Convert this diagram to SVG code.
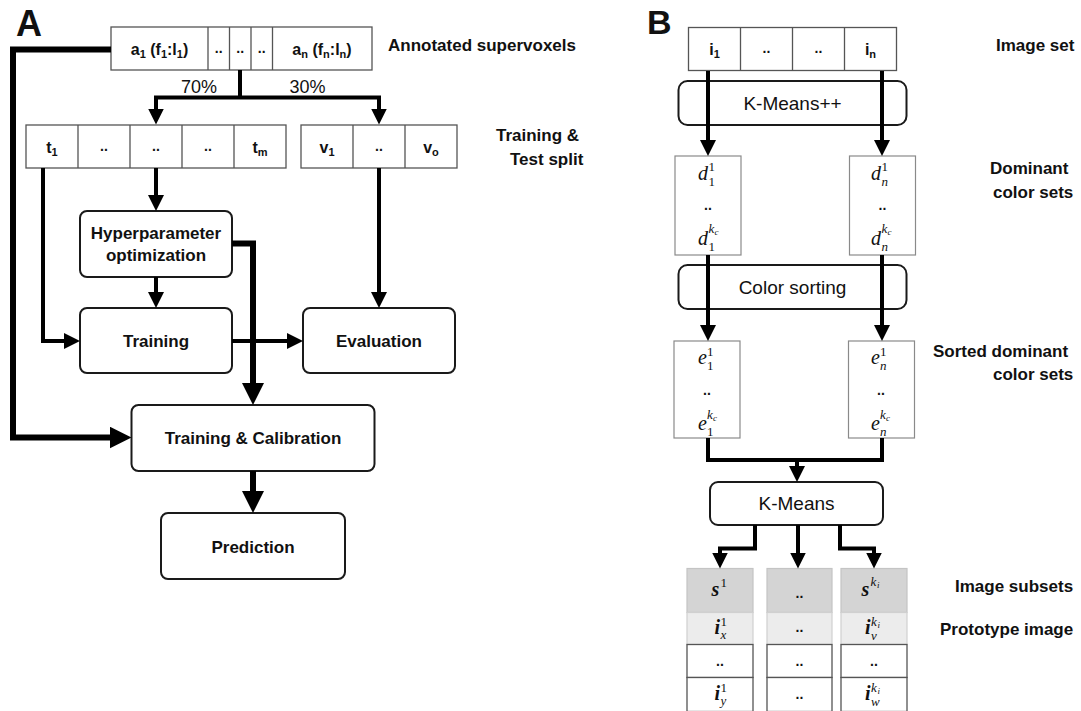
<svg xmlns="http://www.w3.org/2000/svg" width="1081" height="711" viewBox="0 0 1081 711">
<style>
.t{font-family:"Liberation Sans",Arial,sans-serif;fill:#111}
.b{font-weight:bold}
.m{font-family:"Liberation Serif","Times New Roman",serif;font-style:italic;fill:#111}
.u{font-family:"Liberation Serif","Times New Roman",serif;fill:#111}
.box{fill:#fff;stroke:#1a1a1a;stroke-width:2}
.cell{fill:#fff;stroke:#555;stroke-width:1.3}
.lc{fill:#fff;stroke:#8a8a8a;stroke-width:1.2}
.thin{fill:none;stroke:#000;stroke-width:4}
.thick{fill:none;stroke:#000;stroke-width:6}
</style>
<defs>
<marker id="ah" markerUnits="userSpaceOnUse" markerWidth="16" markerHeight="16" refX="4" refY="8" orient="auto-start-reverse"><path d="M0,0 L16,8 L0,16 z" fill="#000"/></marker>
<marker id="AH" markerUnits="userSpaceOnUse" markerWidth="22" markerHeight="22" refX="4" refY="11" orient="auto"><path d="M0,0 L22,11 L0,22 z" fill="#000"/></marker>
</defs>
<rect width="1081" height="711" fill="#fff"/>

<!-- Panel A -->
<text class="t b" x="16" y="36" font-size="36">A</text>
<g id="a-supervoxels">
<rect class="cell" x="111" y="27" width="261" height="43"/>
<path class="cell" d="M208,27V70M229.5,27V70M251,27V70M272.5,27V70"/>
<text class="t b" x="159.5" y="55" font-size="16" text-anchor="middle">a<tspan font-size="11" dy="3">1</tspan><tspan dy="-3"> (f</tspan><tspan font-size="11" dy="3">1</tspan><tspan dy="-3">:l</tspan><tspan font-size="11" dy="3">1</tspan><tspan dy="-3">)</tspan></text>
<text class="t b" x="218.7" y="53" font-size="14" text-anchor="middle">..</text>
<text class="t b" x="240.2" y="53" font-size="14" text-anchor="middle">..</text>
<text class="t b" x="261.7" y="53" font-size="14" text-anchor="middle">..</text>
<text class="t b" x="322" y="55" font-size="16" text-anchor="middle">a<tspan font-size="11" dy="3">n</tspan><tspan dy="-3"> (f</tspan><tspan font-size="11" dy="3">n</tspan><tspan dy="-3">:l</tspan><tspan font-size="11" dy="3">n</tspan><tspan dy="-3">)</tspan></text>
</g>
<text class="t b" x="388" y="51" font-size="17">Annotated supervoxels</text>
<text class="t" x="199" y="93" font-size="18" text-anchor="middle">70%</text>
<text class="t" x="307.5" y="93" font-size="18" text-anchor="middle">30%</text>

<g id="a-train-set">
<rect class="cell" x="26" y="125" width="260" height="43"/>
<path class="cell" d="M78,125V168M130,125V168M182,125V168M234,125V168"/>
<text class="t b" x="52" y="153" font-size="16" text-anchor="middle">t<tspan font-size="11" dy="3">1</tspan></text>
<text class="t b" x="104" y="151" font-size="14" text-anchor="middle">..</text>
<text class="t b" x="156" y="151" font-size="14" text-anchor="middle">..</text>
<text class="t b" x="208" y="151" font-size="14" text-anchor="middle">..</text>
<text class="t b" x="260" y="153" font-size="16" text-anchor="middle">t<tspan font-size="11" dy="3">m</tspan></text>
</g>
<g id="a-test-set">
<rect class="cell" x="301" y="125" width="156" height="43"/>
<path class="cell" d="M353,125V168M405,125V168"/>
<text class="t b" x="327" y="153" font-size="16" text-anchor="middle">v<tspan font-size="11" dy="3">1</tspan></text>
<text class="t b" x="379" y="151" font-size="14" text-anchor="middle">..</text>
<text class="t b" x="431" y="153" font-size="16" text-anchor="middle">v<tspan font-size="11" dy="3">o</tspan></text>
</g>
<text class="t b" x="496" y="141" font-size="17">Training &amp;</text>
<text class="t b" x="510" y="165" font-size="17">Test split</text>

<g id="a-hyper">
<rect class="box" x="80" y="211" width="152" height="66" rx="7"/>
<text class="t b" x="156" y="239" font-size="17" text-anchor="middle">Hyperparameter</text>
<text class="t b" x="156" y="261" font-size="17" text-anchor="middle">optimization</text>
</g>
<g id="a-training">
<rect class="box" x="80" y="308" width="152" height="65" rx="7"/>
<text class="t b" x="156" y="347" font-size="17" text-anchor="middle">Training</text>
</g>
<g id="a-evaluation">
<rect class="box" x="303" y="308" width="152" height="65" rx="7"/>
<text class="t b" x="379" y="347" font-size="17" text-anchor="middle">Evaluation</text>
</g>
<g id="a-calibration">
<rect class="box" x="131.5" y="405" width="243" height="66" rx="7"/>
<text class="t b" x="253" y="444" font-size="17" text-anchor="middle">Training &amp; Calibration</text>
</g>
<g id="a-prediction">
<rect class="box" x="161" y="513" width="184" height="66" rx="7"/>
<text class="t b" x="253" y="553" font-size="17" text-anchor="middle">Prediction</text>
</g>

<g id="a-connectors">
<path class="thin" d="M240,70V97.5"/>
<path class="thin" d="M156,112.5V97.5H379V112.5" marker-start="url(#ah)" marker-end="url(#ah)"/>
<path class="thin" d="M156,168V199" marker-end="url(#ah)"/>
<path class="thin" d="M156,277V296" marker-end="url(#ah)"/>
<path class="thin" d="M43,168V341H68" marker-end="url(#ah)"/>
<path class="thin" d="M379,168V296" marker-end="url(#ah)"/>
<path class="thin" d="M232,341H291" marker-end="url(#ah)"/>
<path class="thick" d="M232,243.5H253V387" marker-end="url(#AH)"/>
<path class="thick" d="M111,49.5H13V437.5H113.5" marker-end="url(#AH)"/>
<path class="thick" d="M253,471V495" marker-end="url(#AH)"/>
</g>

<!-- Panel B -->
<text class="t b" x="647" y="34" font-size="34">B</text>
<g id="b-image-set">
<rect class="cell" x="688.5" y="27.5" width="208" height="43"/>
<path class="cell" d="M740.5,27.5V70.5M792.5,27.5V70.5M844.5,27.5V70.5"/>
<text class="t b" x="714.5" y="55" font-size="16" text-anchor="middle">i<tspan font-size="11" dy="3">1</tspan></text>
<text class="t b" x="766.5" y="53" font-size="14" text-anchor="middle">..</text>
<text class="t b" x="818.5" y="53" font-size="14" text-anchor="middle">..</text>
<text class="t b" x="870.5" y="55" font-size="16" text-anchor="middle">i<tspan font-size="11" dy="3">n</tspan></text>
</g>
<text class="t b" x="996" y="51" font-size="17">Image set</text>

<g id="b-kmeanspp">
<rect class="box" x="678.5" y="81" width="228" height="44" rx="9"/>
<text class="t" x="792.5" y="110" font-size="19" text-anchor="middle">K-Means++</text>
</g>

<g id="b-dominant-1">
<rect class="lc" x="675" y="156" width="66" height="99"/>
<text class="m" x="698" y="180" font-size="20">d</text>
<text class="u" x="708.5" y="171" font-size="13">1</text>
<text class="u" x="708.5" y="186" font-size="13">1</text>
<text class="t b" x="708" y="210" font-size="14" text-anchor="middle">..</text>
<text class="m" x="698" y="245" font-size="20">d</text>
<text class="m" x="708.5" y="233" font-size="13">k</text>
<text class="m" x="714.5" y="235" font-size="9">c</text>
<text class="u" x="708.5" y="251" font-size="13">1</text>
</g>
<g id="b-dominant-n">
<rect class="lc" x="849.5" y="156" width="66" height="99"/>
<text class="m" x="871" y="180" font-size="20">d</text>
<text class="u" x="881.5" y="171" font-size="13">1</text>
<text class="m" x="881.5" y="186" font-size="13">n</text>
<text class="t b" x="882.5" y="210" font-size="14" text-anchor="middle">..</text>
<text class="m" x="871" y="245" font-size="20">d</text>
<text class="m" x="881.5" y="233" font-size="13">k</text>
<text class="m" x="887.5" y="235" font-size="9">c</text>
<text class="m" x="881.5" y="251" font-size="13">n</text>
</g>
<text class="t b" x="990" y="174" font-size="17">Dominant</text>
<text class="t b" x="993" y="198" font-size="17">color sets</text>

<g id="b-color-sorting">
<rect class="box" x="678.5" y="265" width="228" height="44" rx="9"/>
<text class="t" x="792.5" y="294" font-size="19" text-anchor="middle">Color sorting</text>
</g>

<g id="b-sorted-1">
<rect class="lc" x="674" y="341" width="66" height="97"/>
<text class="m" x="698" y="364" font-size="20">e</text>
<text class="u" x="707" y="356" font-size="13">1</text>
<text class="u" x="707" y="370" font-size="13">1</text>
<text class="t b" x="707" y="395" font-size="14" text-anchor="middle">..</text>
<text class="m" x="698" y="430" font-size="20">e</text>
<text class="m" x="707" y="419" font-size="13">k</text>
<text class="m" x="713" y="421" font-size="9">c</text>
<text class="u" x="707" y="436" font-size="13">1</text>
</g>
<g id="b-sorted-n">
<rect class="lc" x="848.5" y="341" width="66" height="97"/>
<text class="m" x="871" y="364" font-size="20">e</text>
<text class="u" x="880" y="356" font-size="13">1</text>
<text class="m" x="880" y="370" font-size="13">n</text>
<text class="t b" x="881" y="395" font-size="14" text-anchor="middle">..</text>
<text class="m" x="871" y="430" font-size="20">e</text>
<text class="m" x="880" y="419" font-size="13">k</text>
<text class="m" x="886" y="421" font-size="9">c</text>
<text class="m" x="880" y="436" font-size="13">n</text>
</g>
<text class="t b" x="933" y="357" font-size="17">Sorted dominant</text>
<text class="t b" x="993" y="380" font-size="17">color sets</text>

<g id="b-kmeans">
<rect class="box" x="710" y="482" width="173" height="43" rx="8"/>
<text class="t" x="796.5" y="510" font-size="19" text-anchor="middle">K-Means</text>
</g>

<g id="b-subset-1">
<rect x="687" y="568.5" width="66" height="44" fill="#d4d4d4" stroke="#c4c4c4" stroke-width="1.2"/>
<rect x="687" y="612.5" width="66" height="32" fill="#ececec" stroke="#d0d0d0" stroke-width="1.2"/>
<rect class="cell" x="687" y="644.5" width="66" height="33"/>
<rect class="cell" x="687" y="677.5" width="66" height="34"/>
<text class="m b" x="711.5" y="596" font-size="20">s</text>
<text class="u" x="720.5" y="587" font-size="13">1</text>
<text class="m b" x="714.5" y="634" font-size="20">i</text>
<text class="u" x="720.5" y="626" font-size="13">1</text>
<text class="m" x="720.5" y="639" font-size="13">x</text>
<text class="t b" x="720" y="666" font-size="14" text-anchor="middle">..</text>
<text class="m b" x="714.5" y="700" font-size="20">i</text>
<text class="u" x="720.5" y="692" font-size="13">1</text>
<text class="m" x="720.5" y="705" font-size="13">y</text>
</g>
<g id="b-subset-mid">
<rect x="767" y="568.5" width="65" height="44" fill="#d4d4d4" stroke="#c4c4c4" stroke-width="1.2"/>
<rect x="767" y="612.5" width="65" height="32" fill="#ececec" stroke="#d0d0d0" stroke-width="1.2"/>
<rect class="cell" x="767" y="644.5" width="65" height="33"/>
<rect class="cell" x="767" y="677.5" width="65" height="34"/>
<text class="t b" x="799.5" y="598" font-size="14" text-anchor="middle">..</text>
<text class="t b" x="799.5" y="632" font-size="14" text-anchor="middle">..</text>
<text class="t b" x="799.5" y="666" font-size="14" text-anchor="middle">..</text>
<text class="t b" x="799.5" y="699" font-size="14" text-anchor="middle">..</text>
</g>
<g id="b-subset-k">
<rect x="841" y="568.5" width="66" height="44" fill="#d4d4d4" stroke="#c4c4c4" stroke-width="1.2"/>
<rect x="841" y="612.5" width="66" height="32" fill="#ececec" stroke="#d0d0d0" stroke-width="1.2"/>
<rect class="cell" x="841" y="644.5" width="66" height="33"/>
<rect class="cell" x="841" y="677.5" width="66" height="34"/>
<text class="m b" x="861.5" y="596" font-size="20">s</text>
<text class="m" x="870.5" y="586" font-size="13">k</text>
<text class="m" x="877" y="588" font-size="9">i</text>
<text class="m b" x="865" y="634" font-size="20">i</text>
<text class="m" x="871" y="626" font-size="13">k</text>
<text class="m" x="877.5" y="628" font-size="9">i</text>
<text class="m" x="871" y="640" font-size="13">v</text>
<text class="t b" x="874" y="666" font-size="14" text-anchor="middle">..</text>
<text class="m b" x="865" y="700" font-size="20">i</text>
<text class="m" x="871" y="692" font-size="13">k</text>
<text class="m" x="877.5" y="694" font-size="9">i</text>
<text class="m" x="871" y="706" font-size="13">w</text>
</g>
<text class="t b" x="955" y="592" font-size="17">Image subsets</text>
<text class="t b" x="940" y="635" font-size="17">Prototype image</text>

<g id="b-connectors">
<path class="thin" d="M708,71V144" marker-end="url(#ah)"/>
<path class="thin" d="M882,71V144" marker-end="url(#ah)"/>
<path class="thin" d="M708,255V329" marker-end="url(#ah)"/>
<path class="thin" d="M882,255V329" marker-end="url(#ah)"/>
<path class="thin" d="M708,438V460H882V438"/>
<path class="thin" d="M797,460V470" marker-end="url(#ah)"/>
<path class="thin" d="M755,525V548.5H720V556.5" marker-end="url(#ah)"/>
<path class="thin" d="M798,525V556.5" marker-end="url(#ah)"/>
<path class="thin" d="M840,525V548.5H874V556.5" marker-end="url(#ah)"/>
</g>
</svg>
